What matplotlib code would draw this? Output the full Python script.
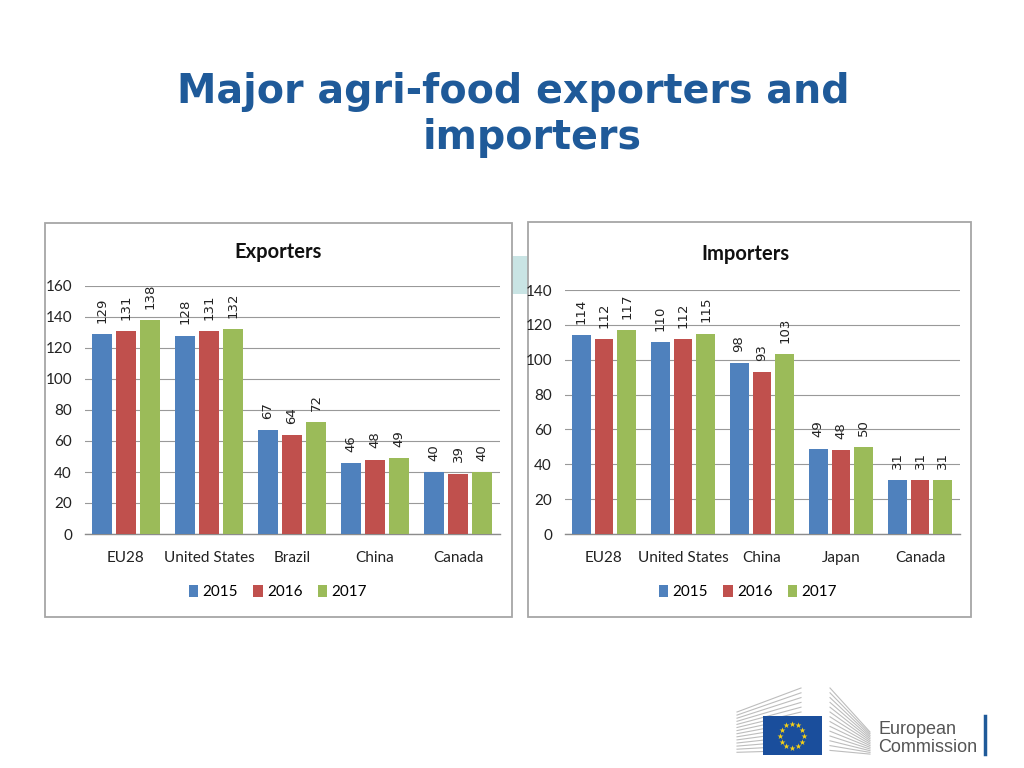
import matplotlib
matplotlib.use("Agg")
import matplotlib.pyplot as plt
import matplotlib.patches as patches
import numpy as np

# ---------------- data ----------------
years = ["2015", "2016", "2017"]
exp_categories = ["EU28", "United States", "Brazil", "China", "Canada"]
exp_2015 = [129, 128, 67, 46, 40]
exp_2016 = [131, 131, 64, 48, 39]
exp_2017 = [138, 132, 72, 49, 40]

imp_categories = ["EU28", "United States", "China", "Japan", "Canada"]
imp_2015 = [114, 110, 98, 49, 31]
imp_2016 = [112, 112, 93, 48, 31]
imp_2017 = [117, 115, 103, 50, 31]

colors = ["#4F81BD", "#C0504D", "#9BBB59"]
W, H = 1024, 768

fig = plt.figure(figsize=(10.24, 7.68), dpi=100)
fig.patch.set_facecolor("white")

def px_axes(x0, y0, x1, y1):
    return fig.add_axes([x0 / W, 1 - y1 / H, (x1 - x0) / W, (y1 - y0) / H])

def fig_rect(x0, y0, x1, y1, **kw):
    r = patches.Rectangle((x0 / W, 1 - y1 / H), (x1 - x0) / W, (y1 - y0) / H,
                          transform=fig.transFigure, **kw)
    fig.add_artist(r)

# title
fig.text(513 / W, 1 - 92 / H, "Major agri-food exporters and", ha="center", va="center",
         fontsize=28.5, fontweight="bold", color="#1F5A99", family="DejaVu Sans")
fig.text(532 / W, 1 - 138 / H, "importers", ha="center", va="center",
         fontsize=28.5, fontweight="bold", color="#1F5A99", family="DejaVu Sans")

# teal decoration + panel boxes
fig_rect(510, 256, 530, 294, facecolor="#C9E4E4", edgecolor="none", zorder=0)
fig_rect(45, 223, 512, 617, facecolor="white", edgecolor="#A6A6A6", lw=1.3, zorder=1)
fig_rect(528, 222, 971, 617, facecolor="white", edgecolor="#A6A6A6", lw=1.3, zorder=1)

narrow = ["Lato", "DejaVu Sans"]

def draw_panel(box, cats, series, ymax, title, title_xy, legend_xy):
    ax = px_axes(*box)
    ax.set_zorder(2)
    ax.patch.set_alpha(0)
    x = np.arange(len(cats))
    bw, off = 0.24, 0.29
    for i, (vals, c) in enumerate(zip(series, colors)):
        xs = x + (i - 1) * off
        ax.bar(xs, vals, width=bw, color=c, label=years[i], zorder=3)
        for xv, v in zip(xs, vals):
            ax.annotate(str(v), (xv, v), xytext=(0, 8), textcoords="offset points",
                        rotation=90, ha="center", va="bottom", fontsize=9.5,
                        color="#222222", family="DejaVu Sans")
    ax.set_xlim(-0.5, len(cats) - 0.5)
    ax.set_ylim(0, ymax)
    ax.set_yticks(np.arange(0, ymax + 1, 20))
    ax.set_xticks(x)
    ax.set_xticklabels(cats, family=narrow, fontsize=11, color="#222222")
    for lab in ax.get_yticklabels():
        lab.set_family(narrow)
        lab.set_fontsize(11)
        lab.set_color("#222222")
    ax.tick_params(axis="both", length=0)
    ax.tick_params(axis="x", pad=12)
    ax.tick_params(axis="y", pad=9)
    ax.grid(axis="y", color="#999999", lw=0.8, zorder=0)
    for s in ["top", "right", "left"]:
        ax.spines[s].set_visible(False)
    ax.spines["bottom"].set_color("#8C8C8C")
    ax.spines["bottom"].set_linewidth(1.0)
    fig.text(title_xy[0] / W, 1 - title_xy[1] / H, title, ha="center", va="center",
             fontsize=14.5, fontweight="bold", family=narrow, color="#111111", zorder=3)
    handles, labels = ax.get_legend_handles_labels()
    leg = fig.legend(handles, labels, loc="center", ncol=3, frameon=False,
                     bbox_to_anchor=(legend_xy[0] / W, 1 - legend_xy[1] / H),
                     handlelength=0.6, handleheight=0.9, handletextpad=0.3,
                     columnspacing=1.0, prop={"family": narrow, "size": 11})
    leg.set_zorder(3)
    return ax

draw_panel((84.5, 286, 499.5, 534), exp_categories, [exp_2015, exp_2016, exp_2017],
           160, "Exporters", (278, 252), (278, 592))
draw_panel((564.5, 290, 959.5, 534), imp_categories, [imp_2015, imp_2016, imp_2017],
           140, "Importers", (745, 254), (748, 592))

# ---------------- logo ----------------
lg = px_axes(730, 680, 1000, 765)
lg.set_xlim(730, 1000)
lg.set_ylim(765, 680)
lg.axis("off")
for k in range(14):
    y_left = 712 + k * 3.1
    y_right = 688 + k * 4.8
    lg.plot([737, 801], [y_left, y_right], color="#BDBDBD", lw=0.8)
for k in range(14):
    y_left = 688 + k * 4.8
    y_right = 732 + k * 1.7
    lg.plot([830, 870], [y_left, y_right], color="#BDBDBD", lw=0.8)
lg.add_patch(patches.Rectangle((763, 716), 59, 39, facecolor="#1A4E9C", edgecolor="none", zorder=3))
ang = np.linspace(0, 2 * np.pi, 13)[:-1]
lg.scatter(792 + 12 * np.cos(ang), 735.5 + 12 * np.sin(ang), marker="*", s=20,
           color="#F7D117", zorder=4, linewidths=0)
lg.text(878, 729, "European", fontsize=13, color="#555555", va="center", ha="left",
        family="Liberation Sans")
lg.text(878, 748, "Commission", fontsize=13, color="#555555", va="center", ha="left",
        family="Liberation Sans")
lg.plot([985, 985], [716, 754], color="#1F5A99", lw=2.5)

fig.savefig("out.png", dpi=100)
